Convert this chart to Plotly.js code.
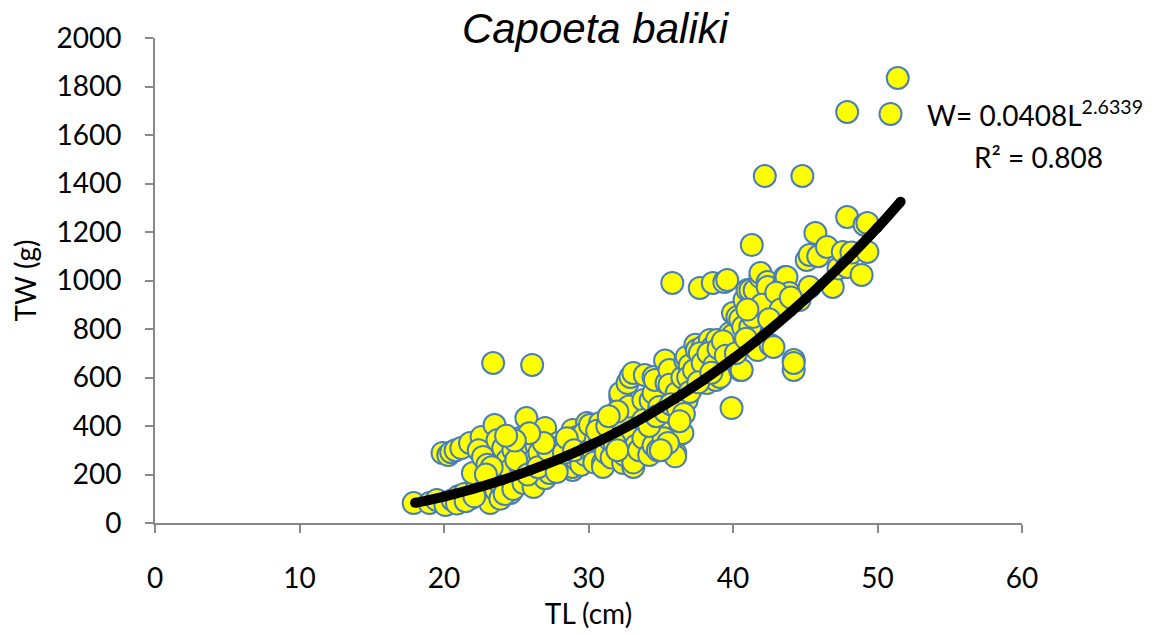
<!DOCTYPE html>
<html>
<head>
<meta charset="utf-8">
<script src="https://cdn.plot.ly/plotly-3.0.1.min.js"></script>
<style>html,body{margin:0;padding:0;background:#fff;}#chart{width:1163px;height:635px;}</style>
</head>
<body>
<div id="chart"></div>
<script>
// Observed fish: total length (cm) and total weight (g)
var TL = [
  17.9,19.0,19.5,20.1,20.6,21.0,21.4,21.8,22.3,22.0,22.8,23.2,23.6,24.0,24.6,24.3,19.9,20.3,20.5,20.8,21.2,21.8,22.6,22.4,22.7,23.0,23.5,23.7,23.4,23.9,24.1,24.4,24.8,24.6,23.3,22.9,
  20.9,21.5,22.1,23.9,24.2,24.8,
  25.3,25.5,25.7,25.2,25.6,26.1,26.2,26.0,26.4,26.6,26.8,27.0,27.0,27.3,27.5,27.7,27.9,28.0,28.0,28.3,28.6,28.9,28.9,28.9,28.7,29.2,29.2,29.4,29.5,29.8,29.9,29.7,
  25.0,25.8,26.5,27.2,27.8,28.3,28.5,29.0,26.9,25.9,24.9,24.3,
  30.1,30.1,30.3,30.4,30.5,30.8,30.8,31.0,31.0,31.0,31.2,31.5,31.6,31.7,31.9,32.2,32.2,32.4,32.4,32.5,32.6,32.7,32.9,32.9,33.0,33.1,33.1,33.1,33.1,33.3,33.5,33.6,
  30.6,31.3,31.8,32.0,32.3,32.8,32.0,31.4,
  33.8,33.8,33.9,34.0,34.3,34.5,34.5,34.6,34.9,35.0,35.0,35.3,35.4,35.6,35.6,35.8,35.9,36.0,36.0,36.1,36.3,36.5,36.5,36.7,36.8,36.8,37.0,37.2,37.4,37.5,
  33.5,33.8,34.2,34.5,34.8,35.2,35.5,35.0,34.2,34.7,35.3,35.7,36.2,36.6,36.3,
  37.7,37.9,38.0,38.2,38.2,38.4,38.6,38.6,38.8,38.9,39.1,39.1,39.4,39.6,39.8,39.9,40.0,40.0,40.3,40.5,40.5,40.6,40.7,40.8,41.0,
  36.9,37.3,37.7,37.9,38.3,38.7,39.0,39.3,39.5,37.0,37.6,38.5,
  41.2,41.2,41.3,41.5,41.7,41.7,41.9,41.9,41.9,42.2,42.4,42.4,42.6,42.8,42.8,42.9,43.5,43.6,43.7,43.9,44.2,44.2,44.2,44.6,44.8,45.1,45.3,45.3,45.7,45.9,
  40.2,40.9,41.4,42.0,43.0,43.3,44.0,42.5,41.0,
  46.5,46.9,47.3,47.6,47.9,47.9,47.9,48.2,48.9,49.1,49.3,49.3,50.9,51.4
];
var TW = [
  82,82,95,74,95,110,120,100,148,206,125,82,135,150,124,175,289,280,292,300,309,330,355,300,272,240,404,342,660,206,309,260,301,220,230,200,
  80,90,110,100,120,140,
  231,165,433,350,290,652,148,250,320,289,200,392,185,206,270,250,330,301,313,230,270,219,231,384,340,355,260,300,240,280,412,370,
  260,200,230,300,210,290,350,300,330,370,340,360,
  404,301,301,250,340,412,340,371,247,231,290,342,270,437,380,520,536,301,247,280,350,577,602,384,440,437,619,231,250,320,480,465,
  380,400,330,300,420,480,460,440,
  507,425,610,360,505,536,602,590,478,385,420,670,577,631,570,990,450,289,275,536,365,371,600,670,685,507,650,560,735,713,
  300,350,280,320,300,350,330,300,400,440,460,490,470,450,420,
  969,726,620,577,643,755,726,990,590,755,602,670,994,1002,784,474,775,866,849,631,840,631,808,920,961,
  600,630,700,660,700,650,720,750,690,540,580,620,
  808,961,1146,960,713,878,866,1014,1031,1431,994,973,734,726,920,899,980,1014,1014,948,672,631,660,920,1431,1085,973,1105,1196,1100,
  700,760,850,900,950,880,930,840,880,
  1138,973,1050,1118,1262,1056,1695,1115,1023,1230,1237,1118,1687,1835
];
// Fitted power curve
var FIT_TL = [18,20,22,24,26,28,30,32,34,36,38,40,42,44,46,48,50,51.6];
var FIT_TW = [83,109,140,176,218,264,317,376,441,513,591,677,770,870,978,1094,1218,1325];

var TITLE = 'Capoeta baliki';
var XTITLE = 'TL (cm)';
var YTITLE = 'TW (g)';
var EQ1 = 'W= 0.0408L<sup>2.6339</sup>';
var EQ2 = 'R² = 0.808';

var axisCol = '#898989';
var fnt = {family: 'Lato, "Open Sans", sans-serif', size: 28, color: '#000'};

var traces = [
  {x: TL, y: TW, type: 'scatter', mode: 'markers',
   marker: {size: 22, color: '#FFFF00', line: {color: '#4A7EBB', width: 2}},
   hoverinfo: 'skip'},
  {x: FIT_TL, y: FIT_TW, type: 'scatter', mode: 'lines+markers',
   line: {color: '#000', width: 10, shape: 'spline'},
   marker: {size: 10, color: '#000'}, hoverinfo: 'skip'}
];

var layout = {
  width: 1163, height: 635,
  margin: {l: 155, r: 141, t: 38, b: 112, pad: 0},
  paper_bgcolor: '#fff', plot_bgcolor: '#fff',
  showlegend: false,
  title: {text: '<i>' + TITLE + '</i>', font: {family: '"Liberation Sans", Arial, sans-serif', size: 42, color: '#000'},
          x: 0.5075, xref: 'paper', xanchor: 'center', y: 0.955, yref: 'container', yanchor: 'middle'},
  xaxis: {range: [0, 60], dtick: 10, tick0: 0, showgrid: false, zeroline: false,
          showline: true, linecolor: axisCol, linewidth: 2,
          ticks: 'outside', ticklen: 8, tickwidth: 2, tickcolor: axisCol,
          tickfont: fnt, ticklabelstandoff: 21,
          title: {text: XTITLE, font: fnt, standoff: 12}},
  yaxis: {range: [0, 2000], dtick: 200, tick0: 0, showgrid: false, zeroline: false,
          showline: true, linecolor: axisCol, linewidth: 2,
          ticks: 'outside', ticklen: 8, tickwidth: 2, tickcolor: axisCol,
          tickfont: fnt, ticklabelstandoff: 18,
          title: {text: YTITLE, font: fnt, standoff: 12}},
  annotations: [
    {text: EQ1, xref: 'paper', yref: 'paper', x: 0.888, y: 0.845, xanchor: 'left', yanchor: 'middle',
     showarrow: false, font: fnt},
    {text: EQ2, xref: 'paper', yref: 'paper', x: 1.0196, y: 0.754, xanchor: 'center', yanchor: 'middle',
     showarrow: false, font: fnt}
  ]
};

Plotly.newPlot('chart', traces, layout, {staticPlot: true, displayModeBar: false});
</script>
</body>
</html>
